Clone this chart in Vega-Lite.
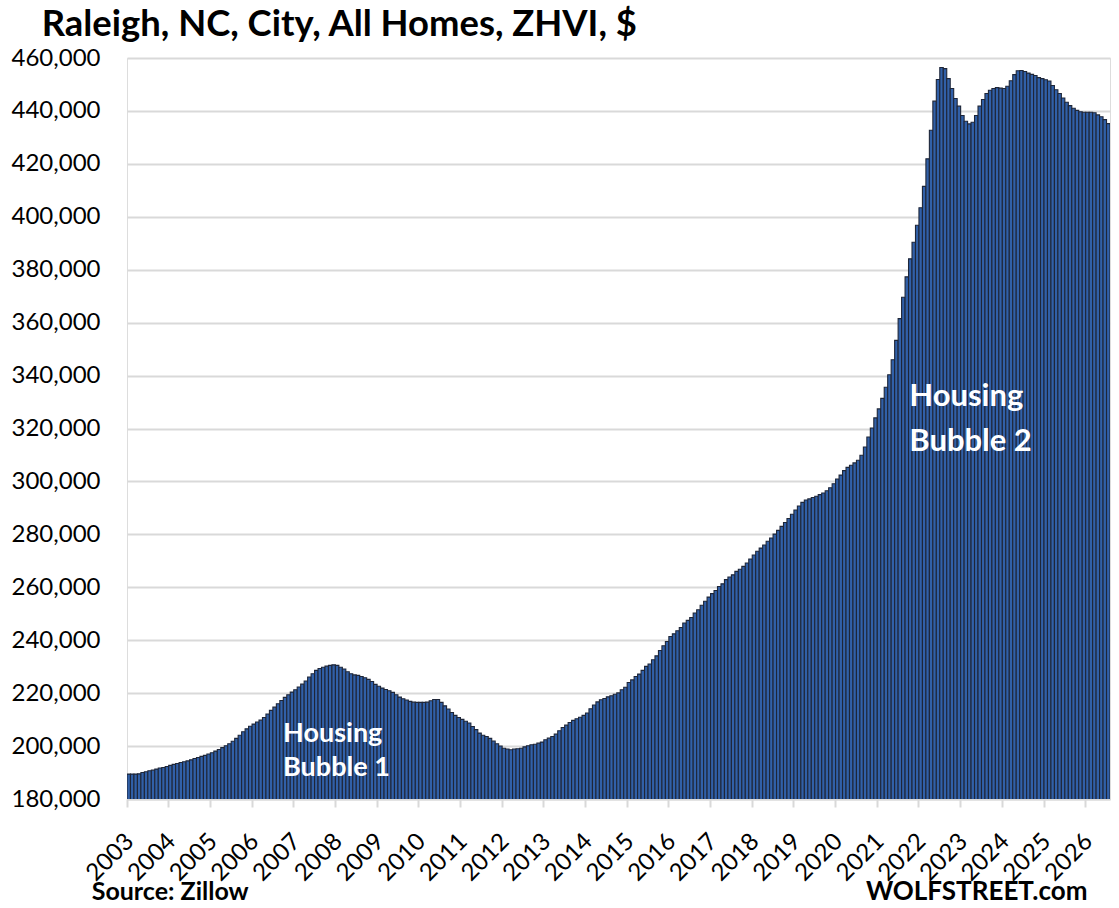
{
  "$schema": "https://vega.github.io/schema/vega-lite/v6.json",
  "description": "Raleigh, NC, City, All Homes, ZHVI, monthly bars 2003-2026",
  "width": 983,
  "height": 741,
  "autosize": "none",
  "padding": {"left": 127, "top": 58, "right": 9, "bottom": 109},
  "background": "white",
  "datasets": {
    "zhvi": [
      {"month": "2003-01", "value": 189400}, {"month": "2003-02", "value": 189400}, {"month": "2003-03", "value": 189400},
      {"month": "2003-04", "value": 189500}, {"month": "2003-05", "value": 190000}, {"month": "2003-06", "value": 190300},
      {"month": "2003-07", "value": 190700}, {"month": "2003-08", "value": 190900}, {"month": "2003-09", "value": 191300},
      {"month": "2003-10", "value": 191700}, {"month": "2003-11", "value": 191900}, {"month": "2003-12", "value": 192300},
      {"month": "2004-01", "value": 192700}, {"month": "2004-02", "value": 193100}, {"month": "2004-03", "value": 193400},
      {"month": "2004-04", "value": 193800}, {"month": "2004-05", "value": 194100}, {"month": "2004-06", "value": 194400},
      {"month": "2004-07", "value": 194800}, {"month": "2004-08", "value": 195300}, {"month": "2004-09", "value": 195700},
      {"month": "2004-10", "value": 196100}, {"month": "2004-11", "value": 196500}, {"month": "2004-12", "value": 197000},
      {"month": "2005-01", "value": 197500}, {"month": "2005-02", "value": 198100}, {"month": "2005-03", "value": 198700},
      {"month": "2005-04", "value": 199400}, {"month": "2005-05", "value": 200100}, {"month": "2005-06", "value": 200900},
      {"month": "2005-07", "value": 201800}, {"month": "2005-08", "value": 202900}, {"month": "2005-09", "value": 204100},
      {"month": "2005-10", "value": 205400}, {"month": "2005-11", "value": 206500}, {"month": "2005-12", "value": 207500},
      {"month": "2006-01", "value": 208300}, {"month": "2006-02", "value": 209100}, {"month": "2006-03", "value": 209800},
      {"month": "2006-04", "value": 210800}, {"month": "2006-05", "value": 212100}, {"month": "2006-06", "value": 213500},
      {"month": "2006-07", "value": 214700}, {"month": "2006-08", "value": 216000}, {"month": "2006-09", "value": 217200},
      {"month": "2006-10", "value": 218400}, {"month": "2006-11", "value": 219400}, {"month": "2006-12", "value": 220400},
      {"month": "2007-01", "value": 221300}, {"month": "2007-02", "value": 222300}, {"month": "2007-03", "value": 223400},
      {"month": "2007-04", "value": 224600}, {"month": "2007-05", "value": 226100}, {"month": "2007-06", "value": 227300},
      {"month": "2007-07", "value": 228600}, {"month": "2007-08", "value": 229300}, {"month": "2007-09", "value": 229800},
      {"month": "2007-10", "value": 230200}, {"month": "2007-11", "value": 230500}, {"month": "2007-12", "value": 230700},
      {"month": "2008-01", "value": 230500}, {"month": "2008-02", "value": 229800}, {"month": "2008-03", "value": 229100},
      {"month": "2008-04", "value": 228100}, {"month": "2008-05", "value": 227300}, {"month": "2008-06", "value": 226900},
      {"month": "2008-07", "value": 226700}, {"month": "2008-08", "value": 226300}, {"month": "2008-09", "value": 225800},
      {"month": "2008-10", "value": 225200}, {"month": "2008-11", "value": 224400}, {"month": "2008-12", "value": 223300},
      {"month": "2009-01", "value": 222600}, {"month": "2009-02", "value": 221900}, {"month": "2009-03", "value": 221400},
      {"month": "2009-04", "value": 220900}, {"month": "2009-05", "value": 220300}, {"month": "2009-06", "value": 219400},
      {"month": "2009-07", "value": 218500}, {"month": "2009-08", "value": 217900}, {"month": "2009-09", "value": 217400},
      {"month": "2009-10", "value": 216900}, {"month": "2009-11", "value": 216600}, {"month": "2009-12", "value": 216500},
      {"month": "2010-01", "value": 216500}, {"month": "2010-02", "value": 216500}, {"month": "2010-03", "value": 216600},
      {"month": "2010-04", "value": 217100}, {"month": "2010-05", "value": 217600}, {"month": "2010-06", "value": 217600},
      {"month": "2010-07", "value": 216500}, {"month": "2010-08", "value": 215200}, {"month": "2010-09", "value": 214000},
      {"month": "2010-10", "value": 212700}, {"month": "2010-11", "value": 211600}, {"month": "2010-12", "value": 210800},
      {"month": "2011-01", "value": 210100}, {"month": "2011-02", "value": 209400}, {"month": "2011-03", "value": 208700},
      {"month": "2011-04", "value": 207400}, {"month": "2011-05", "value": 206200}, {"month": "2011-06", "value": 204900},
      {"month": "2011-07", "value": 204100}, {"month": "2011-08", "value": 203600}, {"month": "2011-09", "value": 202900},
      {"month": "2011-10", "value": 201900}, {"month": "2011-11", "value": 200900}, {"month": "2011-12", "value": 200000},
      {"month": "2012-01", "value": 199200}, {"month": "2012-02", "value": 198900}, {"month": "2012-03", "value": 198600},
      {"month": "2012-04", "value": 198900}, {"month": "2012-05", "value": 199000}, {"month": "2012-06", "value": 199200},
      {"month": "2012-07", "value": 199700}, {"month": "2012-08", "value": 200100}, {"month": "2012-09", "value": 200500},
      {"month": "2012-10", "value": 200700}, {"month": "2012-11", "value": 201100}, {"month": "2012-12", "value": 201500},
      {"month": "2013-01", "value": 202400}, {"month": "2013-02", "value": 203000}, {"month": "2013-03", "value": 203600},
      {"month": "2013-04", "value": 204500}, {"month": "2013-05", "value": 205800}, {"month": "2013-06", "value": 207000},
      {"month": "2013-07", "value": 207900}, {"month": "2013-08", "value": 208900}, {"month": "2013-09", "value": 209700},
      {"month": "2013-10", "value": 210300}, {"month": "2013-11", "value": 210900}, {"month": "2013-12", "value": 211600},
      {"month": "2014-01", "value": 212500}, {"month": "2014-02", "value": 214100}, {"month": "2014-03", "value": 215500},
      {"month": "2014-04", "value": 216700}, {"month": "2014-05", "value": 217500}, {"month": "2014-06", "value": 218000},
      {"month": "2014-07", "value": 218600}, {"month": "2014-08", "value": 219000}, {"month": "2014-09", "value": 219600},
      {"month": "2014-10", "value": 220100}, {"month": "2014-11", "value": 221300}, {"month": "2014-12", "value": 222200},
      {"month": "2015-01", "value": 224000}, {"month": "2015-02", "value": 225000}, {"month": "2015-03", "value": 226300},
      {"month": "2015-04", "value": 227200}, {"month": "2015-05", "value": 228600}, {"month": "2015-06", "value": 230100},
      {"month": "2015-07", "value": 231000}, {"month": "2015-08", "value": 232600}, {"month": "2015-09", "value": 234100},
      {"month": "2015-10", "value": 236100}, {"month": "2015-11", "value": 237900}, {"month": "2015-12", "value": 239500},
      {"month": "2016-01", "value": 241400}, {"month": "2016-02", "value": 242400}, {"month": "2016-03", "value": 243600},
      {"month": "2016-04", "value": 244800}, {"month": "2016-05", "value": 246500}, {"month": "2016-06", "value": 247500},
      {"month": "2016-07", "value": 248600}, {"month": "2016-08", "value": 250300}, {"month": "2016-09", "value": 251500},
      {"month": "2016-10", "value": 253200}, {"month": "2016-11", "value": 254700}, {"month": "2016-12", "value": 256300},
      {"month": "2017-01", "value": 257600}, {"month": "2017-02", "value": 258800}, {"month": "2017-03", "value": 260300},
      {"month": "2017-04", "value": 261300}, {"month": "2017-05", "value": 262900}, {"month": "2017-06", "value": 263900},
      {"month": "2017-07", "value": 264700}, {"month": "2017-08", "value": 266000}, {"month": "2017-09", "value": 266800},
      {"month": "2017-10", "value": 267900}, {"month": "2017-11", "value": 269200}, {"month": "2017-12", "value": 270700},
      {"month": "2018-01", "value": 272200}, {"month": "2018-02", "value": 273600}, {"month": "2018-03", "value": 274800},
      {"month": "2018-04", "value": 276000}, {"month": "2018-05", "value": 277400}, {"month": "2018-06", "value": 278600},
      {"month": "2018-07", "value": 280100}, {"month": "2018-08", "value": 281500}, {"month": "2018-09", "value": 283000},
      {"month": "2018-10", "value": 284500}, {"month": "2018-11", "value": 286000}, {"month": "2018-12", "value": 287600},
      {"month": "2019-01", "value": 289200}, {"month": "2019-02", "value": 290700}, {"month": "2019-03", "value": 292100},
      {"month": "2019-04", "value": 293000}, {"month": "2019-05", "value": 293400}, {"month": "2019-06", "value": 293900},
      {"month": "2019-07", "value": 294400}, {"month": "2019-08", "value": 295000}, {"month": "2019-09", "value": 295600},
      {"month": "2019-10", "value": 296500}, {"month": "2019-11", "value": 297600}, {"month": "2019-12", "value": 299100},
      {"month": "2020-01", "value": 300900}, {"month": "2020-02", "value": 302400}, {"month": "2020-03", "value": 304100},
      {"month": "2020-04", "value": 305300}, {"month": "2020-05", "value": 306100}, {"month": "2020-06", "value": 307000},
      {"month": "2020-07", "value": 308000}, {"month": "2020-08", "value": 309900}, {"month": "2020-09", "value": 313000},
      {"month": "2020-10", "value": 316800}, {"month": "2020-11", "value": 320200}, {"month": "2020-12", "value": 324000},
      {"month": "2021-01", "value": 327400}, {"month": "2021-02", "value": 331400}, {"month": "2021-03", "value": 335600},
      {"month": "2021-04", "value": 340300}, {"month": "2021-05", "value": 346000}, {"month": "2021-06", "value": 353300},
      {"month": "2021-07", "value": 361500}, {"month": "2021-08", "value": 369600}, {"month": "2021-09", "value": 377300},
      {"month": "2021-10", "value": 384100}, {"month": "2021-11", "value": 390400}, {"month": "2021-12", "value": 396800},
      {"month": "2022-01", "value": 403400}, {"month": "2022-02", "value": 411500}, {"month": "2022-03", "value": 421900},
      {"month": "2022-04", "value": 432700}, {"month": "2022-05", "value": 443700}, {"month": "2022-06", "value": 451900},
      {"month": "2022-07", "value": 456400}, {"month": "2022-08", "value": 456000}, {"month": "2022-09", "value": 452200},
      {"month": "2022-10", "value": 448500}, {"month": "2022-11", "value": 444700}, {"month": "2022-12", "value": 441800},
      {"month": "2023-01", "value": 438300}, {"month": "2023-02", "value": 436100}, {"month": "2023-03", "value": 435100},
      {"month": "2023-04", "value": 435700}, {"month": "2023-05", "value": 438300}, {"month": "2023-06", "value": 441800},
      {"month": "2023-07", "value": 444300}, {"month": "2023-08", "value": 446600}, {"month": "2023-09", "value": 447800},
      {"month": "2023-10", "value": 448500}, {"month": "2023-11", "value": 448800}, {"month": "2023-12", "value": 448600},
      {"month": "2024-01", "value": 448500}, {"month": "2024-02", "value": 449300}, {"month": "2024-03", "value": 451400},
      {"month": "2024-04", "value": 453700}, {"month": "2024-05", "value": 455200}, {"month": "2024-06", "value": 455300},
      {"month": "2024-07", "value": 454900}, {"month": "2024-08", "value": 454300}, {"month": "2024-09", "value": 453800},
      {"month": "2024-10", "value": 453400}, {"month": "2024-11", "value": 452600}, {"month": "2024-12", "value": 452200},
      {"month": "2025-01", "value": 451800}, {"month": "2025-02", "value": 451300}, {"month": "2025-03", "value": 449600},
      {"month": "2025-04", "value": 448000}, {"month": "2025-05", "value": 446600}, {"month": "2025-06", "value": 444900},
      {"month": "2025-07", "value": 443300}, {"month": "2025-08", "value": 442000}, {"month": "2025-09", "value": 441000},
      {"month": "2025-10", "value": 440200}, {"month": "2025-11", "value": 439700}, {"month": "2025-12", "value": 439500},
      {"month": "2026-01", "value": 439500}, {"month": "2026-02", "value": 439500}, {"month": "2026-03", "value": 439300},
      {"month": "2026-04", "value": 438500}, {"month": "2026-05", "value": 437800}, {"month": "2026-06", "value": 436700},
      {"month": "2026-07", "value": 435200}
    ]
  },
  "config": {
    "axisX": {
      "labelFont": "Lato",
      "labelFontSize": 24,
      "labelColor": "black",
      "labelAngle": -45,
      "labelPadding": 22,
      "labelOffset": -7,
      "labelOverlap": false,
      "domainColor": "#D9D9D9",
      "domainWidth": 2,
      "tickColor": "#D9D9D9",
      "tickWidth": 2,
      "tickSize": 8,
      "grid": false
    },
    "axisY": {
      "labelFont": "Lato",
      "labelFontSize": 24,
      "labelColor": "black",
      "labelPadding": 27,
      "labelOverlap": false,
      "labelExpr": "format(datum.value, ',')",
      "ticks": false,
      "domain": false,
      "gridColor": "#D9D9D9",
      "gridWidth": 2
    }
  },
  "layer": [
    {
      "data": {"name": "zhvi"},
      "mark": {"type": "bar", "fill": "#3160A8", "stroke": "#1E2638", "strokeWidth": 1.1, "clip": true},
      "encoding": {
        "x": {
          "field": "month",
          "type": "ordinal",
          "scale": {"paddingInner": 0, "paddingOuter": 0},
          "axis": {
            "title": null,
            "values": ["2003-01", "2004-01", "2005-01", "2006-01", "2007-01", "2008-01", "2009-01", "2010-01",
                       "2011-01", "2012-01", "2013-01", "2014-01", "2015-01", "2016-01", "2017-01", "2018-01",
                       "2019-01", "2020-01", "2021-01", "2022-01", "2023-01", "2024-01", "2025-01", "2026-01"],
            "labelExpr": "slice(datum.label, 0, 4)",
            "bandPosition": 0
          }
        },
        "y": {
          "field": "value",
          "type": "quantitative",
          "scale": {"domain": [180000, 460000], "nice": false, "zero": false},
          "axis": {
            "title": null,
            "values": [180000, 200000, 220000, 240000, 260000, 280000, 300000, 320000,
                       340000, 360000, 380000, 400000, 420000, 440000, 460000],
            "format": ","
          }
        }
      }
    },
    {
      "data": {"values": [{}]},
      "mark": {"type": "text", "text": ["Housing", "Bubble 1"], "font": "Lato", "fontSize": 27, "fontWeight": "bold",
               "color": "white", "align": "left", "baseline": "alphabetic", "lineHeight": 34, "dx": -2},
      "encoding": {
        "x": {"datum": "2006-10", "type": "ordinal"},
        "y": {"datum": 201700, "type": "quantitative"}
      }
    },
    {
      "data": {"values": [{}]},
      "mark": {"type": "text", "text": ["Housing", "Bubble 2"], "font": "Lato", "fontSize": 31, "fontWeight": "bold",
               "color": "white", "align": "left", "baseline": "alphabetic", "lineHeight": 45, "dx": -1},
      "encoding": {
        "x": {"datum": "2021-10", "type": "ordinal"},
        "y": {"datum": 328500, "type": "quantitative"}
      }
    },
    {
      "data": {"values": [{}]},
      "mark": {"type": "text", "text": "Raleigh, NC, City, All Homes, ZHVI, $", "font": "Lato", "fontSize": 36.4, "fontWeight": "bold",
               "color": "black", "align": "left", "baseline": "alphabetic", "dx": -87},
      "encoding": {
        "x": {"datum": "2003-01", "type": "ordinal"},
        "y": {"datum": 468200, "type": "quantitative"}
      }
    },
    {
      "data": {"values": [{}]},
      "mark": {"type": "text", "text": "Source: Zillow", "font": "Lato", "fontSize": 25, "fontWeight": "bold",
               "color": "black", "align": "left", "baseline": "alphabetic", "dx": -37},
      "encoding": {
        "x": {"datum": "2003-01", "type": "ordinal"},
        "y": {"datum": 141800, "type": "quantitative"}
      }
    },
    {
      "data": {"values": [{}]},
      "mark": {"type": "text", "text": "WOLFSTREET.com", "font": "Lato", "fontSize": 26, "fontWeight": "bold",
               "color": "black", "align": "right", "baseline": "alphabetic", "dx": 0},
      "encoding": {
        "x": {"datum": "2026-01", "type": "ordinal"},
        "y": {"datum": 141800, "type": "quantitative"}
      }
    }
  ]
}
